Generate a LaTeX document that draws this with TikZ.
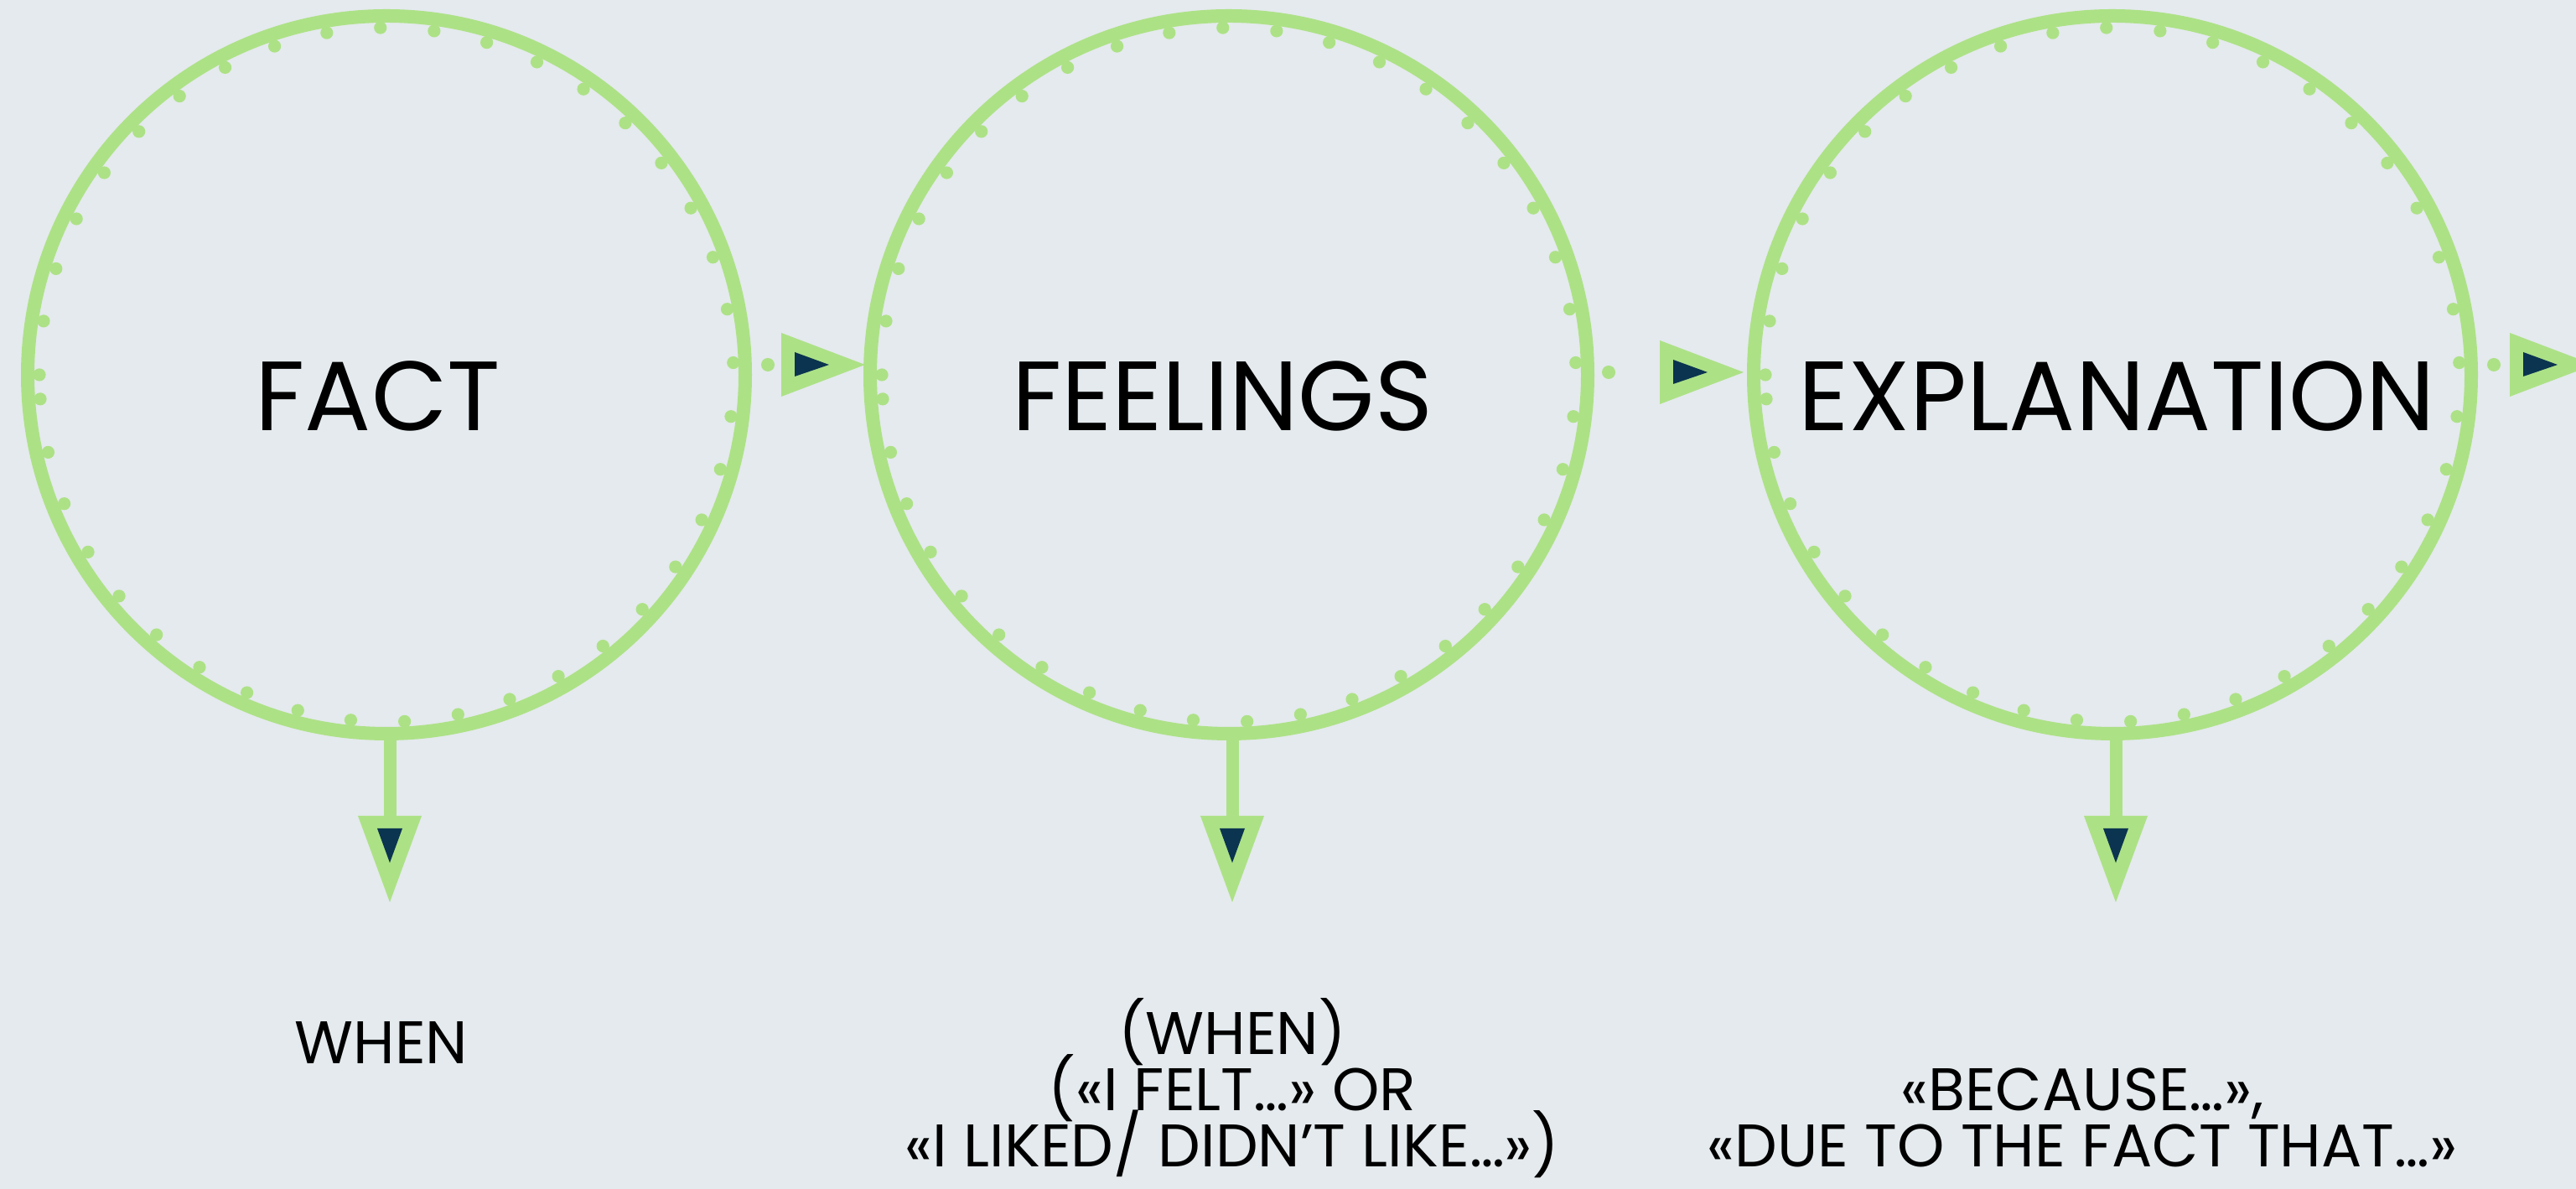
\documentclass[tikz,border=0pt]{standalone}
\usepackage{fontspec}
\newfontfamily\headfont{Poppins}
\usepackage{tikz}
\usetikzlibrary{positioning,calc}
\definecolor{bgc}{HTML}{E4EAED}
\definecolor{ringc}{HTML}{ADE186}
\definecolor{tipc}{HTML}{0B3450}
\newcommand{\notefont}{\headfont\fontsize{20.4}{19.1}\selectfont\lineskiplimit -30pt\relax}
\tikzset{
  ring/.style={circle,draw=ringc,line width=0.16cm,minimum size=8.56cm,inner sep=0pt},
  bead/.style={circle,fill=ringc,inner sep=0pt,minimum size=0.16cm},
  ttl/.style={font=\headfont\fontsize{33.4}{34}\selectfont,anchor=base,inner sep=0pt},
  note/.style={font=\notefont,align=center,anchor=base,inner sep=0pt},
  stem/.style={draw=ringc,line width=0.15cm},
  harrow/.pic={\fill[ringc] (0,0) -- (-1,0.38) -- (-1,-0.38) -- cycle;
               \fill[tipc] (-0.84,0.15) -- (-0.84,-0.14) -- (-0.43,0) -- cycle;},
  varrow/.pic={\fill[ringc] (-0.38,0) -- (0.38,0) -- (0,-1.03) -- cycle;
               \fill[tipc] (-0.15,-0.15) -- (0.15,-0.15) -- (0,-0.56) -- cycle;},
}

\begin{document}
\begin{tikzpicture}
  \fill[bgc] (0,0) rectangle (30.73,14.18);
  \clip (0,0) rectangle (30.73,14.18);
  \node[ring] (r1) at (4.61,9.71) {};
  \node[ring] (r2) at (14.66,9.71) {};
  \node[ring] (r3) at (25.20,9.71) {};
  \foreach \r in {r1,r2,r3}
    \foreach \k in {0,...,40}
      \fill[ringc] ([shift={(180-8.9*\k:4.14)}]\r.center) circle (0.076);
  \node[ttl] (t1) at ([xshift=-0.1cm,yshift=-0.67cm]r1.center) {FACT};
  \node[ttl] (t2) at ([xshift=-0.08cm,yshift=-0.67cm]r2.center) {FEELINGS};
  \node[ttl] (t3) at ([xshift=0.05cm,yshift=-0.67cm]r3.center) {EXPLANATION};
  % dots and heads between the rings
  \node[bead] (b1) at ([xshift=0.19cm,yshift=0.12cm]r1.east) {};
  \node[bead] (b2) at ([xshift=0.17cm,yshift=0.03cm]r2.east) {};
  \node[bead] (b3) at ([xshift=0.19cm,yshift=0.12cm]r3.east) {};
  \coordinate (h1) at ([xshift=0.02cm,yshift=0.12cm]r2.west);
  \coordinate (h2) at ([xshift=-0.04cm,yshift=0.03cm]r3.west);
  \coordinate (h3) at ([xshift=1.38cm,yshift=0.12cm]r3.east);
  \foreach \h in {h1,h2,h3} \pic at (\h) {harrow};
  % down arrows
  \foreach \r/\d in {r1/d1,r2/d2,r3/d3}{
    \coordinate (\d) at ([xshift=0.04cm,yshift=-0.9cm]\r.south);
    \draw[stem] ([xshift=0.04cm,yshift=0.1cm]\r.south) -- ([yshift=-0.05cm]\d);
    \pic at (\d) {varrow};
  }
  \node[note] (n1) at (4.55,1.49) {WHEN};
  \node[note] (n2) at (14.70,0.26) {(WHEN)\\(«I FELT…» OR\\«I LIKED/ DIDN’T LIKE…»)};
  \node[note] (n3) at (24.84,0.26) {«BECAUSE…»,\\«DUE TO THE FACT THAT…»};
\end{tikzpicture}
\end{document}
